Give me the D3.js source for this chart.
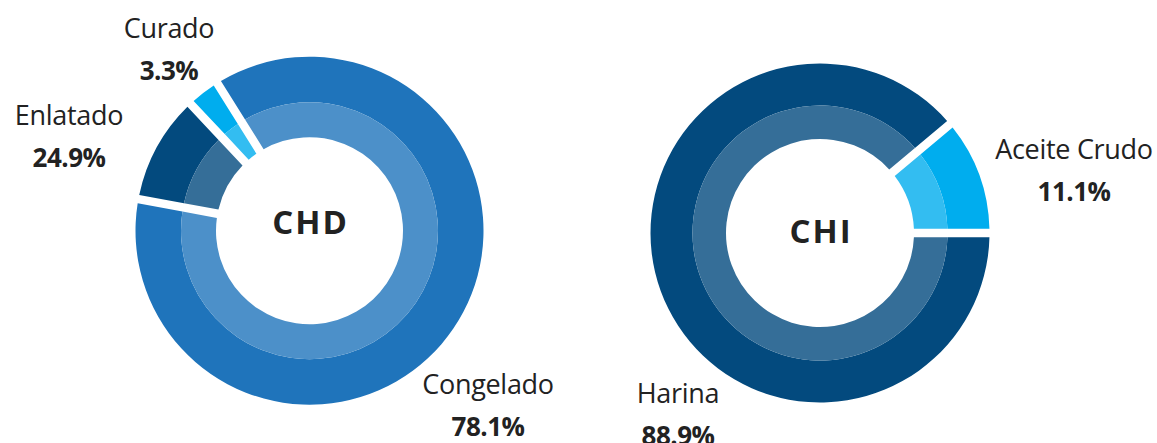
<!DOCTYPE html>
<html>
<head>
<meta charset="utf-8">
<script src="https://cdn.jsdelivr.net/npm/d3@7"></script>
<style>
  html, body { margin: 0; padding: 0; background: #ffffff; }
  svg { display: block; }
  text { font-family: "Open Sans", "Noto Sans", sans-serif; fill: #222222; }
</style>
</head>
<body>
<svg id="chart" width="1157" height="443"></svg>
<script>
// ---- data ----
const chdTitle = "CHD";
const chdCategories = ["Congelado", "Enlatado", "Curado"];
const chdShares = [86.8, 10.1, 3.1];          // arc sizes as drawn
const chdLabels = ["78.1%", "24.9%", "3.3%"]; // printed labels
const chiTitle = "CHI";
const chiCategories = ["Harina", "Aceite Crudo"];
const chiShares = [88.9, 11.1];
const chiLabels = ["88.9%", "11.1%"];

// ---- layout / style ----
const colorMap = {
  "Congelado": "#1f74bb",
  "Enlatado": "#034a7e",
  "Curado": "#00adee",
  "Harina": "#034a7e",
  "Aceite Crudo": "#00adee"
};
const charts = [
  {
    title: chdTitle, categories: chdCategories, shares: chdShares, labels: chdLabels,
    cx: 309.5, cy: 230.7, rInner: 93.5, rMid: 128.5, rOuter: 174,
    startDeg: -32, titleY: 233.5,
    labelPos: { "Congelado": [488, 393.5], "Enlatado": [69, 125], "Curado": [169, 37.5] }
  },
  {
    title: chiTitle, categories: chiCategories, shares: chiShares, labels: chiLabels,
    cx: 820, cy: 233, rInner: 94, rMid: 127.5, rOuter: 169.5,
    startDeg: 90, titleY: 242.7,
    labelPos: { "Harina": [678, 403], "Aceite Crudo": [1074, 158.5] }
  }
];
const gapPx = 8.5;
const padR = 100;
const padA = 2 * Math.asin(gapPx / 2 / padR);

const svg = d3.select("#chart");

charts.forEach(c => {
  const g = svg.append("g").attr("transform", `translate(${c.cx},${c.cy})`);
  const data = c.categories.map((name, i) => ({ name, value: c.shares[i], label: c.labels[i] }));
  const start = c.startDeg * Math.PI / 180;
  const pie = d3.pie().sort(null).value(d => d.value)
    .startAngle(start).endAngle(start + 2 * Math.PI);
  const arcs = pie(data);

  const outerArc = d3.arc().innerRadius(c.rMid).outerRadius(c.rOuter)
    .padRadius(padR).padAngle(padA);
  const innerArc = d3.arc().innerRadius(c.rInner).outerRadius(c.rMid)
    .padRadius(padR).padAngle(padA);

  g.selectAll("path.outer").data(arcs).join("path")
    .attr("class", "outer")
    .attr("d", outerArc)
    .attr("fill", d => colorMap[d.data.name]);
  g.selectAll("path.inner").data(arcs).join("path")
    .attr("class", "inner")
    .attr("d", innerArc)
    .attr("fill", d => d3.interpolateRgb(colorMap[d.data.name], "#ffffff")(0.2));

  svg.append("text")
    .attr("x", c.cx + 1)
    .attr("y", c.titleY)
    .attr("text-anchor", "middle")
    .style("font-size", "33px")
    .style("font-weight", "700")
    .style("letter-spacing", "2px")
    .text(c.title);

  data.forEach(d => {
    const [lx, ly] = c.labelPos[d.name];
    svg.append("text")
      .attr("x", lx).attr("y", ly)
      .attr("text-anchor", "middle")
      .style("font-size", "27px")
      .style("font-weight", "400")
      .style("letter-spacing", "-0.3px")
      .text(d.name);
    svg.append("text")
      .attr("x", lx).attr("y", ly + 42)
      .attr("text-anchor", "middle")
      .style("font-size", "26px")
      .style("font-weight", "700")
      .style("letter-spacing", "-0.5px")
      .text(d.label);
  });
});
</script>
</body>
</html>
